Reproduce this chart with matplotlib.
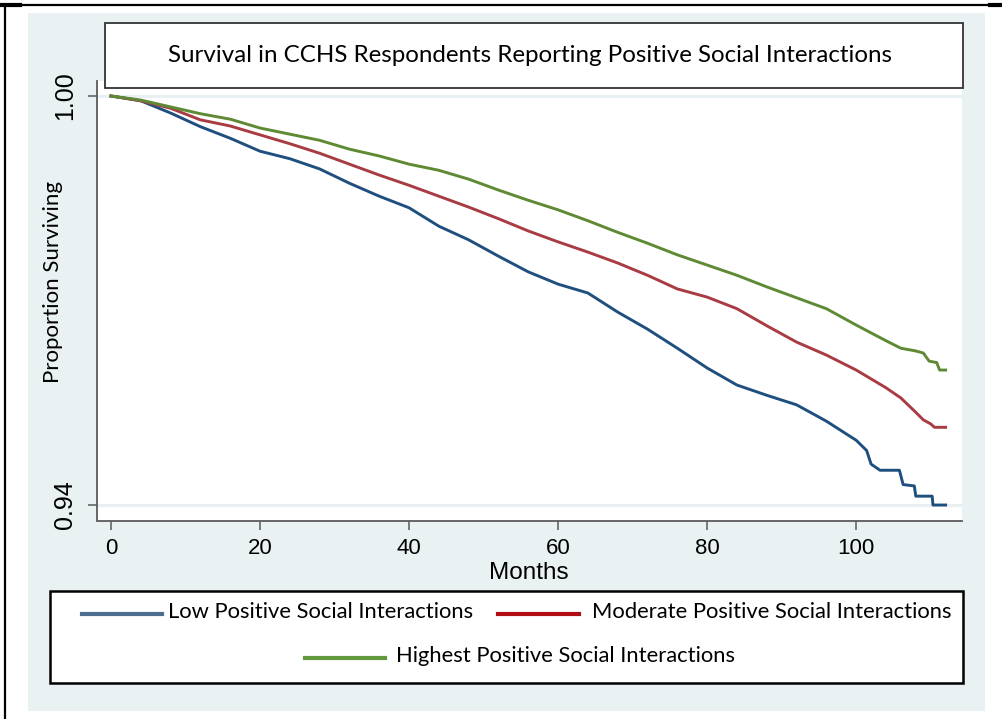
import matplotlib.pyplot as plt
from matplotlib.patches import Rectangle
from matplotlib.lines import Line2D

# Kaplan-Meier estimates read per group (months, proportion surviving)
low_months = [0, 4, 8, 12, 16, 20, 24, 28, 32, 36, 40, 44, 48, 52, 56, 60, 64, 68, 72,
              76, 80, 84, 88, 92, 96, 100, 101.4, 102, 103.2, 105.8, 106.3, 107.8, 108,
              110.2, 110.3, 112]
low_surv = [1.0000, 0.9993, 0.9975, 0.9955, 0.9938, 0.9919, 0.9908, 0.9893, 0.9872,
            0.9853, 0.9836, 0.9809, 0.9789, 0.9765, 0.9742, 0.9724, 0.9711, 0.9683,
            0.9658, 0.9630, 0.9601, 0.9576, 0.9561, 0.9547, 0.9523, 0.9495, 0.9480,
            0.9460, 0.9451, 0.9451, 0.9430, 0.9428, 0.9413, 0.9413, 0.9400, 0.9400]

mod_months = [0, 4, 8, 12, 16, 20, 24, 28, 32, 36, 40, 44, 48, 52, 56, 60, 64, 68, 72,
              76, 80, 84, 88, 92, 96, 100, 104, 106, 108, 109, 110, 110.5, 112]
mod_surv = [1.0000, 0.9993, 0.9982, 0.9965, 0.9956, 0.9943, 0.9930, 0.9916, 0.9900,
            0.9884, 0.9869, 0.9853, 0.9837, 0.9820, 0.9802, 0.9786, 0.9771, 0.9755,
            0.9737, 0.9717, 0.9705, 0.9688, 0.9663, 0.9639, 0.9620, 0.9598, 0.9572,
            0.9557, 0.9536, 0.9525, 0.9519, 0.9514, 0.9514]

high_months = [0, 4, 8, 12, 16, 20, 24, 28, 32, 36, 40, 44, 48, 52, 56, 60, 64, 68, 72,
               76, 80, 84, 88, 92, 96, 100, 104, 106, 108, 109, 109.8, 110.8, 111.2, 112]
high_surv = [1.0000, 0.9994, 0.9984, 0.9974, 0.9966, 0.9953, 0.9944, 0.9935, 0.9922,
             0.9912, 0.9900, 0.9891, 0.9878, 0.9862, 0.9847, 0.9833, 0.9817, 0.9800,
             0.9784, 0.9767, 0.9752, 0.9737, 0.9720, 0.9704, 0.9688, 0.9664, 0.9641,
             0.9630, 0.9626, 0.9623, 0.9611, 0.9609, 0.9598, 0.9598]

labels = ["Low Positive Social Interactions",
          "Moderate Positive Social Interactions",
          "Highest Positive Social Interactions"]
line_colors = ["#1f4f7f", "#a83c42", "#5e8a34"]
key_colors = ["#4d6e8e", "#b00e14", "#62993e"]

W, H = 1002, 719
soft = "Lato"
arial = "Liberation Sans"


def fx(x):
    return x / W


def fy(y):
    return 1 - y / H


fig = plt.figure(figsize=(W / 100, H / 100), dpi=100)
fig.patch.set_facecolor("white")

# pale panel behind everything
fig.add_artist(Rectangle((fx(28), fy(711)), fx(985) - fx(28), fy(13) - fy(711),
                         transform=fig.transFigure, facecolor="#eaf1f3",
                         edgecolor="none", zorder=-10))
# outer frame lines
fig.add_artist(Line2D([fx(5), fx(995)], [fy(5), fy(5)], color="black", lw=1.6))
fig.add_artist(Line2D([fx(5), fx(5)], [fy(5), fy(719)], color="black", lw=1.6))
fig.add_artist(Line2D([fx(0), fx(20)], [fy(5), fy(5)], color="black", lw=3))
fig.add_artist(Line2D([fx(990), fx(1002)], [fy(5), fy(5)], color="black", lw=3))

ax = fig.add_axes([fx(97), fy(520.5), fx(962) - fx(97), fy(81) - fy(520.5)])
ax.set_facecolor("white")

for m, s, c, lab in zip([low_months, mod_months, high_months],
                        [low_surv, mod_surv, high_surv], line_colors, labels):
    ax.plot(m, s, color=c, lw=2.1, label=lab, zorder=3)

ax.set_xlim(-1.88, 114.2)
ax.set_ylim(0.93773, 1.0022)
ax.set_xticks([0, 20, 40, 60, 80, 100])
ax.set_yticks([0.94, 1.00])
ax.set_yticklabels(["0.94", "1.00"], rotation=90, va="center")
ax.grid(axis="y", color="#e8f0f3", lw=2.2, zorder=1)
ax.grid(axis="x", visible=False)
for side in ["top", "right"]:
    ax.spines[side].set_visible(False)
for side in ["left", "bottom"]:
    ax.spines[side].set_color("#5a5a5a")
    ax.spines[side].set_linewidth(1.3)
ax.tick_params(axis="both", direction="out", length=6.5, width=1.1, color="#5a5a5a")
ax.tick_params(axis="x", labelsize=16, pad=6)
ax.tick_params(axis="y", labelsize=18, pad=8)
for t in ax.get_xticklabels() + ax.get_yticklabels():
    t.set_family(arial)

fig.text(fx(529), fy(573), "Months", ha="center", va="center", fontsize=17.5, family=arial)
fig.text(fx(53), fy(282), "Proportion Surviving", rotation=90, ha="center", va="center",
         fontsize=16, family=soft)

# title box
fig.add_artist(Rectangle((fx(105), fy(88)), fx(963) - fx(105), fy(23) - fy(88),
                         transform=fig.transFigure, facecolor="white",
                         edgecolor="#333333", lw=1.3, zorder=5))
fig.text(fx(530), fy(56), "Survival in CCHS Respondents Reporting Positive Social Interactions",
         ha="center", va="center", fontsize=17.4, family=soft, zorder=6)

# key box
fig.add_artist(Rectangle((fx(50), fy(683)), fx(963) - fx(50), fy(591) - fy(683),
                         transform=fig.transFigure, facecolor="white",
                         edgecolor="black", lw=1.8, zorder=5))
key_rows = [(82, 162, 614, 168), (498, 579, 614, 592), (305, 385, 658, 396)]
for (x0, x1, y, tx), c, lab in zip(key_rows, key_colors, labels):
    fig.add_artist(Line2D([fx(x0), fx(x1)], [fy(y), fy(y)], color=c, lw=3, zorder=6))
    fig.text(fx(tx), fy(y - 2), lab, ha="left", va="center", fontsize=15.8,
             family=soft, zorder=6)

fig.savefig("out.png", dpi=100)
